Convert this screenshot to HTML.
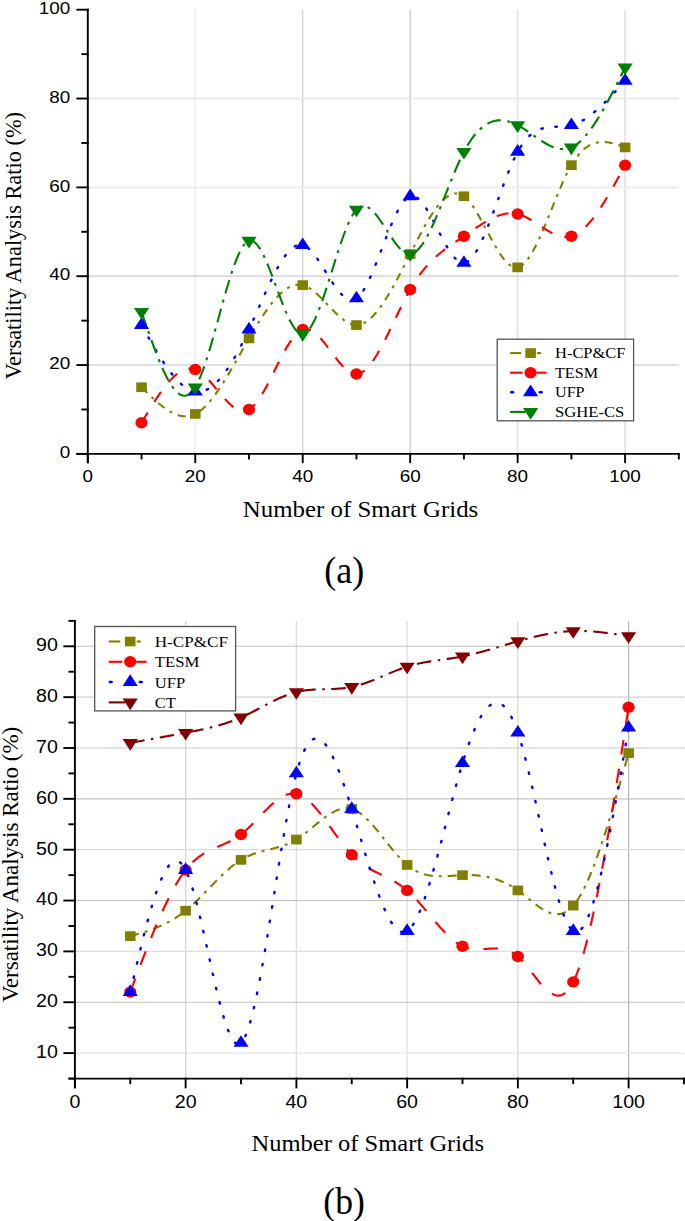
<!DOCTYPE html>
<html><head><meta charset="utf-8"><style>
html,body{margin:0;padding:0;background:#fff;overflow:hidden;}
svg{display:block;}
</style></head><body>
<svg width="685" height="1221" viewBox="0 0 685 1221">
<rect width="685" height="1221" fill="#fff"/>
<g><line x1="195.26" y1="9.70" x2="195.26" y2="453.90" stroke="#f1f1f1" stroke-width="2"/><line x1="302.72" y1="9.70" x2="302.72" y2="453.90" stroke="#d2d2d2" stroke-width="1.3"/><line x1="410.18" y1="9.70" x2="410.18" y2="453.90" stroke="#cdcdcd" stroke-width="1.4"/><line x1="517.64" y1="9.70" x2="517.64" y2="453.90" stroke="#e4e4e4" stroke-width="1.8"/><line x1="625.10" y1="9.70" x2="625.10" y2="453.90" stroke="#e0e0e0" stroke-width="1.6"/><line x1="87.80" y1="365.06" x2="678.50" y2="365.06" stroke="#c2c2c2" stroke-width="1.1"/><line x1="87.80" y1="276.22" x2="678.50" y2="276.22" stroke="#cccccc" stroke-width="1.2"/><line x1="87.80" y1="187.38" x2="678.50" y2="187.38" stroke="#eeeeee" stroke-width="2"/><line x1="87.80" y1="98.54" x2="678.50" y2="98.54" stroke="#ebebeb" stroke-width="2"/><line x1="87.80" y1="9.70" x2="678.50" y2="9.70" stroke="#ffffff" stroke-width="0"/></g>
<path d="M141.53,387.27 L143.32,389.05 L145.11,390.82 L146.90,392.57 L148.69,394.31 L150.49,396.03 L152.28,397.72 L154.07,399.37 L155.86,400.98 L157.65,402.54 L159.44,404.05 L161.23,405.50 L163.02,406.89 L164.81,408.20 L166.60,409.44 L168.39,410.59 L170.19,411.66 L171.98,412.63 L173.77,413.50 L175.56,414.26 L177.35,414.91 L179.14,415.44 L180.93,415.85 L182.72,416.13 L184.51,416.27 L186.31,416.27 L188.10,416.12 L189.89,415.81 L191.68,415.35 L193.47,414.72 L195.26,413.92 L197.05,412.95 L198.84,411.80 L200.63,410.49 L202.42,409.02 L204.22,407.40 L206.01,405.64 L207.80,403.75 L209.59,401.72 L211.38,399.57 L213.17,397.31 L214.96,394.93 L216.75,392.46 L218.54,389.89 L220.33,387.23 L222.12,384.49 L223.92,381.68 L225.71,378.80 L227.50,375.86 L229.29,372.87 L231.08,369.83 L232.87,366.75 L234.66,363.64 L236.45,360.51 L238.24,357.35 L240.04,354.18 L241.83,351.01 L243.62,347.84 L245.41,344.68 L247.20,341.53 L248.99,338.41 L250.78,335.31 L252.57,332.26 L254.36,329.24 L256.15,326.27 L257.94,323.35 L259.74,320.50 L261.53,317.70 L263.32,314.98 L265.11,312.34 L266.90,309.78 L268.69,307.31 L270.48,304.93 L272.27,302.65 L274.06,300.48 L275.86,298.43 L277.65,296.49 L279.44,294.67 L281.23,292.99 L283.02,291.44 L284.81,290.04 L286.60,288.78 L288.39,287.68 L290.18,286.73 L291.97,285.95 L293.76,285.35 L295.56,284.92 L297.35,284.68 L299.14,284.62 L300.93,284.76 L302.72,285.10 L304.51,285.65 L306.30,286.39 L308.09,287.30 L309.88,288.38 L311.68,289.61 L313.47,290.97 L315.26,292.45 L317.05,294.03 L318.84,295.70 L320.63,297.45 L322.42,299.25 L324.21,301.10 L326.00,302.98 L327.79,304.88 L329.58,306.77 L331.38,308.65 L333.17,310.50 L334.96,312.30 L336.75,314.04 L338.54,315.72 L340.33,317.30 L342.12,318.77 L343.91,320.13 L345.70,321.36 L347.50,322.44 L349.29,323.35 L351.08,324.09 L352.87,324.63 L354.66,324.97 L356.45,325.08 L358.24,324.96 L360.03,324.61 L361.82,324.04 L363.61,323.26 L365.41,322.27 L367.20,321.09 L368.99,319.71 L370.78,318.15 L372.57,316.42 L374.36,314.53 L376.15,312.47 L377.94,310.27 L379.73,307.92 L381.52,305.44 L383.31,302.83 L385.11,300.11 L386.90,297.28 L388.69,294.34 L390.48,291.31 L392.27,288.19 L394.06,284.99 L395.85,281.73 L397.64,278.40 L399.43,275.01 L401.23,271.58 L403.02,268.12 L404.81,264.62 L406.60,261.09 L408.39,257.55 L410.18,254.01 L411.97,250.47 L413.76,246.93 L415.55,243.43 L417.34,239.95 L419.13,236.52 L420.93,233.14 L422.72,229.83 L424.51,226.59 L426.30,223.44 L428.09,220.38 L429.88,217.44 L431.67,214.61 L433.46,211.92 L435.25,209.36 L437.05,206.95 L438.84,204.71 L440.63,202.64 L442.42,200.75 L444.21,199.06 L446.00,197.56 L447.79,196.29 L449.58,195.24 L451.37,194.43 L453.16,193.86 L454.95,193.55 L456.75,193.52 L458.54,193.76 L460.33,194.29 L462.12,195.12 L463.91,196.26 L465.70,197.72 L467.49,199.48 L469.28,201.51 L471.07,203.79 L472.87,206.28 L474.66,208.98 L476.45,211.85 L478.24,214.86 L480.03,217.99 L481.82,221.22 L483.61,224.52 L485.40,227.87 L487.19,231.24 L488.98,234.60 L490.78,237.94 L492.57,241.22 L494.36,244.42 L496.15,247.51 L497.94,250.48 L499.73,253.29 L501.52,255.92 L503.31,258.34 L505.10,260.54 L506.89,262.48 L508.69,264.14 L510.48,265.49 L512.27,266.51 L514.06,267.17 L515.85,267.46 L517.64,267.34 L519.43,266.79 L521.22,265.84 L523.01,264.50 L524.80,262.79 L526.60,260.75 L528.39,258.38 L530.18,255.73 L531.97,252.79 L533.76,249.61 L535.55,246.20 L537.34,242.59 L539.13,238.80 L540.92,234.84 L542.71,230.75 L544.50,226.54 L546.30,222.24 L548.09,217.88 L549.88,213.47 L551.67,209.03 L553.46,204.59 L555.25,200.18 L557.04,195.81 L558.83,191.51 L560.62,187.29 L562.41,183.19 L564.21,179.23 L566.00,175.42 L567.79,171.79 L569.58,168.37 L571.37,165.17 L573.16,162.22 L574.95,159.50 L576.74,157.02 L578.53,154.76 L580.33,152.72 L582.12,150.88 L583.91,149.24 L585.70,147.80 L587.49,146.53 L589.28,145.44 L591.07,144.52 L592.86,143.75 L594.65,143.13 L596.44,142.65 L598.24,142.31 L600.03,142.09 L601.82,141.98 L603.61,141.98 L605.40,142.09 L607.19,142.28 L608.98,142.56 L610.77,142.91 L612.56,143.32 L614.35,143.80 L616.14,144.32 L617.94,144.89 L619.73,145.49 L621.52,146.11 L623.31,146.75 L625.10,147.40" fill="none" stroke="#808000" stroke-width="2.1" stroke-dasharray="8 6 3 6"/>
<path d="M141.53,422.81 L143.32,419.81 L145.11,416.82 L146.90,413.84 L148.69,410.89 L150.49,407.98 L152.28,405.10 L154.07,402.27 L155.86,399.50 L157.65,396.80 L159.44,394.16 L161.23,391.61 L163.02,389.15 L164.81,386.79 L166.60,384.53 L168.39,382.39 L170.19,380.37 L171.98,378.48 L173.77,376.73 L175.56,375.13 L177.35,373.68 L179.14,372.39 L180.93,371.28 L182.72,370.34 L184.51,369.59 L186.31,369.04 L188.10,368.69 L189.89,368.56 L191.68,368.64 L193.47,368.95 L195.26,369.50 L197.05,370.29 L198.84,371.30 L200.63,372.52 L202.42,373.93 L204.22,375.49 L206.01,377.20 L207.80,379.04 L209.59,380.98 L211.38,383.00 L213.17,385.09 L214.96,387.23 L216.75,389.38 L218.54,391.54 L220.33,393.69 L222.12,395.80 L223.92,397.85 L225.71,399.83 L227.50,401.71 L229.29,403.47 L231.08,405.10 L232.87,406.57 L234.66,407.87 L236.45,408.97 L238.24,409.85 L240.04,410.50 L241.83,410.89 L243.62,411.00 L245.41,410.82 L247.20,410.32 L248.99,409.48 L250.78,408.29 L252.57,406.78 L254.36,404.95 L256.15,402.84 L257.94,400.47 L259.74,397.87 L261.53,395.06 L263.32,392.07 L265.11,388.92 L266.90,385.63 L268.69,382.23 L270.48,378.75 L272.27,375.20 L274.06,371.62 L275.86,368.03 L277.65,364.45 L279.44,360.91 L281.23,357.43 L283.02,354.04 L284.81,350.76 L286.60,347.61 L288.39,344.63 L290.18,341.83 L291.97,339.25 L293.76,336.89 L295.56,334.80 L297.35,332.99 L299.14,331.50 L300.93,330.33 L302.72,329.52 L304.51,329.09 L306.30,329.02 L308.09,329.28 L309.88,329.85 L311.68,330.71 L313.47,331.83 L315.26,333.18 L317.05,334.75 L318.84,336.51 L320.63,338.43 L322.42,340.49 L324.21,342.67 L326.00,344.94 L327.79,347.27 L329.58,349.65 L331.38,352.05 L333.17,354.44 L334.96,356.80 L336.75,359.11 L338.54,361.34 L340.33,363.46 L342.12,365.46 L343.91,367.30 L345.70,368.97 L347.50,370.45 L349.29,371.69 L351.08,372.69 L352.87,373.41 L354.66,373.84 L356.45,373.94 L358.24,373.71 L360.03,373.15 L361.82,372.27 L363.61,371.09 L365.41,369.64 L367.20,367.92 L368.99,365.95 L370.78,363.75 L372.57,361.33 L374.36,358.72 L376.15,355.92 L377.94,352.95 L379.73,349.84 L381.52,346.59 L383.31,343.22 L385.11,339.75 L386.90,336.19 L388.69,332.56 L390.48,328.88 L392.27,325.16 L394.06,321.43 L395.85,317.69 L397.64,313.96 L399.43,310.25 L401.23,306.60 L403.02,303.00 L404.81,299.48 L406.60,296.05 L408.39,292.74 L410.18,289.55 L411.97,286.49 L413.76,283.58 L415.55,280.79 L417.34,278.13 L419.13,275.60 L420.93,273.18 L422.72,270.87 L424.51,268.66 L426.30,266.56 L428.09,264.55 L429.88,262.63 L431.67,260.79 L433.46,259.03 L435.25,257.35 L437.05,255.74 L438.84,254.19 L440.63,252.70 L442.42,251.26 L444.21,249.87 L446.00,248.52 L447.79,247.21 L449.58,245.93 L451.37,244.68 L453.16,243.45 L454.95,242.24 L456.75,241.04 L458.54,239.84 L460.33,238.65 L462.12,237.45 L463.91,236.24 L465.70,235.02 L467.49,233.79 L469.28,232.55 L471.07,231.32 L472.87,230.08 L474.66,228.86 L476.45,227.64 L478.24,226.45 L480.03,225.28 L481.82,224.13 L483.61,223.02 L485.40,221.94 L487.19,220.90 L488.98,219.91 L490.78,218.97 L492.57,218.09 L494.36,217.26 L496.15,216.50 L497.94,215.80 L499.73,215.18 L501.52,214.64 L503.31,214.18 L505.10,213.81 L506.89,213.53 L508.69,213.34 L510.48,213.26 L512.27,213.28 L514.06,213.42 L515.85,213.66 L517.64,214.03 L519.43,214.52 L521.22,215.13 L523.01,215.83 L524.80,216.63 L526.60,217.52 L528.39,218.47 L530.18,219.49 L531.97,220.56 L533.76,221.67 L535.55,222.82 L537.34,223.98 L539.13,225.16 L540.92,226.33 L542.71,227.49 L544.50,228.64 L546.30,229.75 L548.09,230.82 L549.88,231.84 L551.67,232.79 L553.46,233.68 L555.25,234.48 L557.04,235.18 L558.83,235.79 L560.62,236.28 L562.41,236.64 L564.21,236.87 L566.00,236.96 L567.79,236.89 L569.58,236.65 L571.37,236.24 L573.16,235.65 L574.95,234.87 L576.74,233.92 L578.53,232.80 L580.33,231.52 L582.12,230.09 L583.91,228.50 L585.70,226.78 L587.49,224.91 L589.28,222.92 L591.07,220.80 L592.86,218.56 L594.65,216.21 L596.44,213.75 L598.24,211.20 L600.03,208.55 L601.82,205.82 L603.61,203.00 L605.40,200.11 L607.19,197.15 L608.98,194.13 L610.77,191.05 L612.56,187.93 L614.35,184.76 L616.14,181.55 L617.94,178.31 L619.73,175.05 L621.52,171.77 L623.31,168.47 L625.10,165.17" fill="none" stroke="#ff0000" stroke-width="2.1" stroke-dasharray="12 12.5"/>
<path d="M141.53,325.08 L143.32,328.27 L145.11,331.46 L146.90,334.63 L148.69,337.79 L150.49,340.91 L152.28,344.01 L154.07,347.06 L155.86,350.07 L157.65,353.03 L159.44,355.93 L161.23,358.77 L163.02,361.53 L164.81,364.22 L166.60,366.82 L168.39,369.33 L170.19,371.75 L171.98,374.06 L173.77,376.26 L175.56,378.34 L177.35,380.30 L179.14,382.13 L180.93,383.83 L182.72,385.38 L184.51,386.79 L186.31,388.03 L188.10,389.12 L189.89,390.04 L191.68,390.78 L193.47,391.34 L195.26,391.71 L197.05,391.89 L198.84,391.88 L200.63,391.68 L202.42,391.30 L204.22,390.74 L206.01,390.01 L207.80,389.10 L209.59,388.03 L211.38,386.79 L213.17,385.39 L214.96,383.83 L216.75,382.12 L218.54,380.26 L220.33,378.26 L222.12,376.12 L223.92,373.83 L225.71,371.42 L227.50,368.87 L229.29,366.20 L231.08,363.40 L232.87,360.48 L234.66,357.45 L236.45,354.31 L238.24,351.06 L240.04,347.71 L241.83,344.26 L243.62,340.71 L245.41,337.07 L247.20,333.34 L248.99,329.52 L250.78,325.63 L252.57,321.67 L254.36,317.66 L256.15,313.61 L257.94,309.54 L259.74,305.47 L261.53,301.41 L263.32,297.37 L265.11,293.37 L266.90,289.42 L268.69,285.54 L270.48,281.75 L272.27,278.06 L274.06,274.48 L275.86,271.03 L277.65,267.73 L279.44,264.59 L281.23,261.62 L283.02,258.84 L284.81,256.27 L286.60,253.92 L288.39,251.80 L290.18,249.93 L291.97,248.33 L293.76,247.00 L295.56,245.98 L297.35,245.26 L299.14,244.87 L300.93,244.82 L302.72,245.13 L304.51,245.79 L306.30,246.81 L308.09,248.13 L309.88,249.74 L311.68,251.61 L313.47,253.70 L315.26,256.00 L317.05,258.46 L318.84,261.07 L320.63,263.80 L322.42,266.61 L324.21,269.47 L326.00,272.37 L327.79,275.26 L329.58,278.13 L331.38,280.94 L333.17,283.67 L334.96,286.28 L336.75,288.76 L338.54,291.06 L340.33,293.16 L342.12,295.03 L343.91,296.65 L345.70,297.99 L347.50,299.01 L349.29,299.69 L351.08,300.00 L352.87,299.91 L354.66,299.40 L356.45,298.43 L358.24,296.99 L360.03,295.10 L361.82,292.79 L363.61,290.10 L365.41,287.06 L367.20,283.70 L368.99,280.06 L370.78,276.18 L372.57,272.08 L374.36,267.80 L376.15,263.38 L377.94,258.84 L379.73,254.22 L381.52,249.56 L383.31,244.88 L385.11,240.23 L386.90,235.63 L388.69,231.12 L390.48,226.74 L392.27,222.51 L394.06,218.47 L395.85,214.66 L397.64,211.10 L399.43,207.84 L401.23,204.90 L403.02,202.32 L404.81,200.13 L406.60,198.37 L408.39,197.07 L410.18,196.26 L411.97,195.97 L413.76,196.17 L415.55,196.84 L417.34,197.92 L419.13,199.40 L420.93,201.23 L422.72,203.38 L424.51,205.82 L426.30,208.52 L428.09,211.43 L429.88,214.53 L431.67,217.78 L433.46,221.14 L435.25,224.59 L437.05,228.08 L438.84,231.59 L440.63,235.08 L442.42,238.51 L444.21,241.85 L446.00,245.07 L447.79,248.13 L449.58,250.99 L451.37,253.64 L453.16,256.01 L454.95,258.10 L456.75,259.85 L458.54,261.25 L460.33,262.24 L462.12,262.80 L463.91,262.89 L465.70,262.50 L467.49,261.63 L469.28,260.31 L471.07,258.57 L472.87,256.43 L474.66,253.93 L476.45,251.08 L478.24,247.92 L480.03,244.46 L481.82,240.75 L483.61,236.80 L485.40,232.63 L487.19,228.29 L488.98,223.78 L490.78,219.15 L492.57,214.41 L494.36,209.59 L496.15,204.72 L497.94,199.82 L499.73,194.93 L501.52,190.06 L503.31,185.25 L505.10,180.51 L506.89,175.89 L508.69,171.39 L510.48,167.06 L512.27,162.91 L514.06,158.97 L515.85,155.28 L517.64,151.84 L519.43,148.70 L521.22,145.83 L523.01,143.22 L524.80,140.87 L526.60,138.76 L528.39,136.87 L530.18,135.20 L531.97,133.72 L533.76,132.44 L535.55,131.32 L537.34,130.37 L539.13,129.56 L540.92,128.88 L542.71,128.33 L544.50,127.89 L546.30,127.54 L548.09,127.27 L549.88,127.06 L551.67,126.92 L553.46,126.81 L555.25,126.74 L557.04,126.68 L558.83,126.62 L560.62,126.55 L562.41,126.46 L564.21,126.34 L566.00,126.16 L567.79,125.92 L569.58,125.60 L571.37,125.19 L573.16,124.69 L574.95,124.08 L576.74,123.38 L578.53,122.59 L580.33,121.70 L582.12,120.74 L583.91,119.69 L585.70,118.56 L587.49,117.35 L589.28,116.08 L591.07,114.74 L592.86,113.33 L594.65,111.86 L596.44,110.33 L598.24,108.75 L600.03,107.11 L601.82,105.43 L603.61,103.71 L605.40,101.94 L607.19,100.13 L608.98,98.29 L610.77,96.43 L612.56,94.53 L614.35,92.61 L616.14,90.67 L617.94,88.71 L619.73,86.74 L621.52,84.75 L623.31,82.76 L625.10,80.77" fill="none" stroke="#0000ff" stroke-dasharray="1.5 12.7" stroke-linecap="round" stroke-width="2.4"/>
<path d="M141.53,311.76 L143.32,317.00 L145.11,322.23 L146.90,327.43 L148.69,332.57 L150.49,337.63 L152.28,342.61 L154.07,347.47 L155.86,352.21 L157.65,356.80 L159.44,361.23 L161.23,365.47 L163.02,369.52 L164.81,373.34 L166.60,376.93 L168.39,380.27 L170.19,383.33 L171.98,386.10 L173.77,388.56 L175.56,390.69 L177.35,392.47 L179.14,393.89 L180.93,394.93 L182.72,395.57 L184.51,395.79 L186.31,395.57 L188.10,394.89 L189.89,393.74 L191.68,392.10 L193.47,389.95 L195.26,387.27 L197.05,384.05 L198.84,380.33 L200.63,376.15 L202.42,371.54 L204.22,366.55 L206.01,361.23 L207.80,355.61 L209.59,349.73 L211.38,343.65 L213.17,337.39 L214.96,331.00 L216.75,324.53 L218.54,318.01 L220.33,311.48 L222.12,305.00 L223.92,298.59 L225.71,292.31 L227.50,286.19 L229.29,280.27 L231.08,274.60 L232.87,269.22 L234.66,264.17 L236.45,259.50 L238.24,255.23 L240.04,251.43 L241.83,248.11 L243.62,245.34 L245.41,243.15 L247.20,241.59 L248.99,240.68 L250.78,240.47 L252.57,240.92 L254.36,241.99 L256.15,243.62 L257.94,245.77 L259.74,248.40 L261.53,251.45 L263.32,254.89 L265.11,258.67 L266.90,262.74 L268.69,267.05 L270.48,271.56 L272.27,276.22 L274.06,280.99 L275.86,285.82 L277.65,290.66 L279.44,295.47 L281.23,300.20 L283.02,304.80 L284.81,309.23 L286.60,313.45 L288.39,317.40 L290.18,321.04 L291.97,324.32 L293.76,327.21 L295.56,329.64 L297.35,331.58 L299.14,332.98 L300.93,333.79 L302.72,333.97 L304.51,333.48 L306.30,332.35 L308.09,330.63 L309.88,328.35 L311.68,325.56 L313.47,322.29 L315.26,318.60 L317.05,314.51 L318.84,310.08 L320.63,305.33 L322.42,300.32 L324.21,295.09 L326.00,289.67 L327.79,284.11 L329.58,278.45 L331.38,272.73 L333.17,267.00 L334.96,261.28 L336.75,255.63 L338.54,250.09 L340.33,244.69 L342.12,239.49 L343.91,234.51 L345.70,229.81 L347.50,225.41 L349.29,221.37 L351.08,217.73 L352.87,214.53 L354.66,211.80 L356.45,209.59 L358.24,207.93 L360.03,206.80 L361.82,206.16 L363.61,205.98 L365.41,206.23 L367.20,206.88 L368.99,207.89 L370.78,209.22 L372.57,210.85 L374.36,212.74 L376.15,214.85 L377.94,217.16 L379.73,219.64 L381.52,222.24 L383.31,224.93 L385.11,227.68 L386.90,230.47 L388.69,233.25 L390.48,235.98 L392.27,238.65 L394.06,241.21 L395.85,243.63 L397.64,245.88 L399.43,247.93 L401.23,249.73 L403.02,251.27 L404.81,252.49 L406.60,253.38 L408.39,253.90 L410.18,254.01 L411.97,253.69 L413.76,252.96 L415.55,251.83 L417.34,250.32 L419.13,248.47 L420.93,246.28 L422.72,243.79 L424.51,241.01 L426.30,237.97 L428.09,234.69 L429.88,231.19 L431.67,227.48 L433.46,223.60 L435.25,219.57 L437.05,215.40 L438.84,211.13 L440.63,206.76 L442.42,202.33 L444.21,197.85 L446.00,193.35 L447.79,188.84 L449.58,184.36 L451.37,179.92 L453.16,175.54 L454.95,171.25 L456.75,167.07 L458.54,163.01 L460.33,159.11 L462.12,155.38 L463.91,151.84 L465.70,148.52 L467.49,145.41 L469.28,142.51 L471.07,139.81 L472.87,137.31 L474.66,135.00 L476.45,132.88 L478.24,130.94 L480.03,129.18 L481.82,127.60 L483.61,126.19 L485.40,124.94 L487.19,123.85 L488.98,122.91 L490.78,122.13 L492.57,121.49 L494.36,120.99 L496.15,120.63 L497.94,120.40 L499.73,120.30 L501.52,120.32 L503.31,120.45 L505.10,120.70 L506.89,121.06 L508.69,121.52 L510.48,122.08 L512.27,122.73 L514.06,123.47 L515.85,124.29 L517.64,125.19 L519.43,126.17 L521.22,127.21 L523.01,128.31 L524.80,129.46 L526.60,130.64 L528.39,131.86 L530.18,133.10 L531.97,134.35 L533.76,135.60 L535.55,136.86 L537.34,138.09 L539.13,139.31 L540.92,140.49 L542.71,141.64 L544.50,142.74 L546.30,143.77 L548.09,144.75 L549.88,145.65 L551.67,146.46 L553.46,147.18 L555.25,147.81 L557.04,148.32 L558.83,148.71 L560.62,148.98 L562.41,149.11 L564.21,149.09 L566.00,148.92 L567.79,148.59 L569.58,148.09 L571.37,147.40 L573.16,146.53 L574.95,145.48 L576.74,144.25 L578.53,142.85 L580.33,141.29 L582.12,139.57 L583.91,137.70 L585.70,135.68 L587.49,133.53 L589.28,131.24 L591.07,128.83 L592.86,126.30 L594.65,123.65 L596.44,120.90 L598.24,118.05 L600.03,115.10 L601.82,112.07 L603.61,108.95 L605.40,105.76 L607.19,102.49 L608.98,99.17 L610.77,95.79 L612.56,92.35 L614.35,88.88 L616.14,85.36 L617.94,81.82 L619.73,78.25 L621.52,74.66 L623.31,71.05 L625.10,67.45" fill="none" stroke="#008000" stroke-width="2.1" stroke-dasharray="14 6.5 3 6.5"/>
<rect x="136.23" y="382.42" width="10.60" height="9.70" fill="#808000"/>
<rect x="189.96" y="409.07" width="10.60" height="9.70" fill="#808000"/>
<rect x="243.69" y="333.56" width="10.60" height="9.70" fill="#808000"/>
<rect x="297.42" y="280.25" width="10.60" height="9.70" fill="#808000"/>
<rect x="351.15" y="320.23" width="10.60" height="9.70" fill="#808000"/>
<rect x="404.88" y="249.16" width="10.60" height="9.70" fill="#808000"/>
<rect x="458.61" y="191.41" width="10.60" height="9.70" fill="#808000"/>
<rect x="512.34" y="262.49" width="10.60" height="9.70" fill="#808000"/>
<rect x="566.07" y="160.32" width="10.60" height="9.70" fill="#808000"/>
<rect x="619.80" y="142.55" width="10.60" height="9.70" fill="#808000"/>
<ellipse cx="141.53" cy="422.81" rx="6.10" ry="5.70" fill="#ff0000"/>
<ellipse cx="195.26" cy="369.50" rx="6.10" ry="5.70" fill="#ff0000"/>
<ellipse cx="248.99" cy="409.48" rx="6.10" ry="5.70" fill="#ff0000"/>
<ellipse cx="302.72" cy="329.52" rx="6.10" ry="5.70" fill="#ff0000"/>
<ellipse cx="356.45" cy="373.94" rx="6.10" ry="5.70" fill="#ff0000"/>
<ellipse cx="410.18" cy="289.55" rx="6.10" ry="5.70" fill="#ff0000"/>
<ellipse cx="463.91" cy="236.24" rx="6.10" ry="5.70" fill="#ff0000"/>
<ellipse cx="517.64" cy="214.03" rx="6.10" ry="5.70" fill="#ff0000"/>
<ellipse cx="571.37" cy="236.24" rx="6.10" ry="5.70" fill="#ff0000"/>
<ellipse cx="625.10" cy="165.17" rx="6.10" ry="5.70" fill="#ff0000"/>
<polygon points="141.53,317.35 133.93,328.95 149.13,328.95" fill="#0000ff"/>
<polygon points="195.26,383.98 187.66,395.58 202.86,395.58" fill="#0000ff"/>
<polygon points="248.99,321.79 241.39,333.39 256.59,333.39" fill="#0000ff"/>
<polygon points="302.72,237.39 295.12,248.99 310.32,248.99" fill="#0000ff"/>
<polygon points="356.45,290.70 348.85,302.30 364.05,302.30" fill="#0000ff"/>
<polygon points="410.18,188.53 402.58,200.13 417.78,200.13" fill="#0000ff"/>
<polygon points="463.91,255.16 456.31,266.76 471.51,266.76" fill="#0000ff"/>
<polygon points="517.64,144.11 510.04,155.71 525.24,155.71" fill="#0000ff"/>
<polygon points="571.37,117.46 563.77,129.06 578.97,129.06" fill="#0000ff"/>
<polygon points="625.10,73.04 617.50,84.64 632.70,84.64" fill="#0000ff"/>
<polygon points="133.93,307.89 149.13,307.89 141.53,319.49" fill="#008000"/>
<polygon points="187.66,383.40 202.86,383.40 195.26,395.00" fill="#008000"/>
<polygon points="241.39,236.82 256.59,236.82 248.99,248.42" fill="#008000"/>
<polygon points="295.12,330.10 310.32,330.10 302.72,341.70" fill="#008000"/>
<polygon points="348.85,205.72 364.05,205.72 356.45,217.32" fill="#008000"/>
<polygon points="402.58,250.14 417.78,250.14 410.18,261.74" fill="#008000"/>
<polygon points="456.31,147.98 471.51,147.98 463.91,159.58" fill="#008000"/>
<polygon points="510.04,121.33 525.24,121.33 517.64,132.93" fill="#008000"/>
<polygon points="563.77,143.54 578.97,143.54 571.37,155.14" fill="#008000"/>
<polygon points="617.50,63.58 632.70,63.58 625.10,75.18" fill="#008000"/>
<g stroke="#000" stroke-width="1.9" stroke-linecap="square"><line x1="87.80" y1="9.70" x2="87.80" y2="462.20"/><line x1="77.30" y1="453.90" x2="678.50" y2="453.90"/><line x1="87.80" y1="453.90" x2="87.80" y2="462.20"/><line x1="195.26" y1="453.90" x2="195.26" y2="462.20"/><line x1="302.72" y1="453.90" x2="302.72" y2="462.20"/><line x1="410.18" y1="453.90" x2="410.18" y2="462.20"/><line x1="517.64" y1="453.90" x2="517.64" y2="462.20"/><line x1="625.10" y1="453.90" x2="625.10" y2="462.20"/><line x1="141.53" y1="453.90" x2="141.53" y2="458.50"/><line x1="248.99" y1="453.90" x2="248.99" y2="458.50"/><line x1="356.45" y1="453.90" x2="356.45" y2="458.50"/><line x1="463.91" y1="453.90" x2="463.91" y2="458.50"/><line x1="571.37" y1="453.90" x2="571.37" y2="458.50"/><line x1="678.83" y1="453.90" x2="678.83" y2="458.50"/><line x1="77.30" y1="453.90" x2="87.80" y2="453.90"/><line x1="77.30" y1="365.06" x2="87.80" y2="365.06"/><line x1="77.30" y1="276.22" x2="87.80" y2="276.22"/><line x1="77.30" y1="187.38" x2="87.80" y2="187.38"/><line x1="77.30" y1="98.54" x2="87.80" y2="98.54"/><line x1="77.30" y1="9.70" x2="87.80" y2="9.70"/><line x1="82.30" y1="409.48" x2="87.80" y2="409.48"/><line x1="82.30" y1="320.64" x2="87.80" y2="320.64"/><line x1="82.30" y1="231.80" x2="87.80" y2="231.80"/><line x1="82.30" y1="142.96" x2="87.80" y2="142.96"/><line x1="82.30" y1="54.12" x2="87.80" y2="54.12"/></g>
<text x="87.80" y="482.10" font-family="Liberation Sans" font-size="17" text-anchor="middle" textLength="10.50" lengthAdjust="spacingAndGlyphs">0</text>
<text x="195.26" y="482.10" font-family="Liberation Sans" font-size="17" text-anchor="middle" textLength="21.00" lengthAdjust="spacingAndGlyphs">20</text>
<text x="302.72" y="482.10" font-family="Liberation Sans" font-size="17" text-anchor="middle" textLength="21.00" lengthAdjust="spacingAndGlyphs">40</text>
<text x="410.18" y="482.10" font-family="Liberation Sans" font-size="17" text-anchor="middle" textLength="21.00" lengthAdjust="spacingAndGlyphs">60</text>
<text x="517.64" y="482.10" font-family="Liberation Sans" font-size="17" text-anchor="middle" textLength="21.00" lengthAdjust="spacingAndGlyphs">80</text>
<text x="625.10" y="482.10" font-family="Liberation Sans" font-size="17" text-anchor="middle" textLength="31.50" lengthAdjust="spacingAndGlyphs">100</text>
<text x="70.20" y="458.10" font-family="Liberation Sans" font-size="17" text-anchor="end" textLength="10.50" lengthAdjust="spacingAndGlyphs">0</text>
<text x="70.20" y="369.26" font-family="Liberation Sans" font-size="17" text-anchor="end" textLength="21.00" lengthAdjust="spacingAndGlyphs">20</text>
<text x="70.20" y="280.42" font-family="Liberation Sans" font-size="17" text-anchor="end" textLength="21.00" lengthAdjust="spacingAndGlyphs">40</text>
<text x="70.20" y="191.58" font-family="Liberation Sans" font-size="17" text-anchor="end" textLength="21.00" lengthAdjust="spacingAndGlyphs">60</text>
<text x="70.20" y="102.74" font-family="Liberation Sans" font-size="17" text-anchor="end" textLength="21.00" lengthAdjust="spacingAndGlyphs">80</text>
<text x="70.20" y="13.90" font-family="Liberation Sans" font-size="17" text-anchor="end" textLength="31.50" lengthAdjust="spacingAndGlyphs">100</text>
<text x="360.50" y="517.10" font-family="Liberation Serif" font-size="23" text-anchor="middle" textLength="235.50" lengthAdjust="spacingAndGlyphs">Number of Smart Grids</text>
<g transform="translate(20.7,245.8) rotate(-90)"><text x="0.00" y="0.00" font-family="Liberation Serif" font-size="22.5" text-anchor="middle" textLength="267.50" lengthAdjust="spacingAndGlyphs">Versatility Analysis Ratio (%)</text></g>
<text x="344.20" y="583.30" font-family="Liberation Serif" font-size="37" text-anchor="middle" textLength="40.00" lengthAdjust="spacingAndGlyphs">(a)</text>
<rect x="497.2" y="339.2" width="136.4" height="81.6" fill="#fff" stroke="#555555" stroke-width="1.3"/>
<line x1="510.10" y1="353.10" x2="521.10" y2="353.10" stroke="#808000" stroke-width="2.1"/>
<line x1="537.10" y1="353.10" x2="541.10" y2="353.10" stroke="#808000" stroke-width="2.1"/>
<rect x="525.30" y="348.25" width="10.60" height="9.70" fill="#808000"/>
<text x="555.00" y="358.10" font-family="Liberation Serif" font-size="15" text-anchor="start" textLength="70.50" lengthAdjust="spacingAndGlyphs">H-CP&amp;CF</text>
<line x1="510.10" y1="372.70" x2="522.60" y2="372.70" stroke="#ff0000" stroke-width="2.1"/>
<line x1="536.60" y1="372.70" x2="546.60" y2="372.70" stroke="#ff0000" stroke-width="2.1"/>
<ellipse cx="530.60" cy="372.70" rx="6.10" ry="5.70" fill="#ff0000"/>
<text x="555.00" y="377.70" font-family="Liberation Serif" font-size="15" text-anchor="start" textLength="43.00" lengthAdjust="spacingAndGlyphs">TESM</text>
<line x1="511.20" y1="392.30" x2="513.00" y2="392.30" stroke="#0000ff" stroke-linecap="round" stroke-width="2.5"/>
<line x1="539.80" y1="392.30" x2="541.60" y2="392.30" stroke="#0000ff" stroke-linecap="round" stroke-width="2.5"/>
<polygon points="530.60,384.57 523.00,396.17 538.20,396.17" fill="#0000ff"/>
<text x="555.00" y="397.30" font-family="Liberation Serif" font-size="15" text-anchor="start" textLength="29.60" lengthAdjust="spacingAndGlyphs">UFP</text>
<line x1="510.10" y1="411.90" x2="525.60" y2="411.90" stroke="#008000" stroke-width="2.1"/>
<polygon points="523.00,408.03 538.20,408.03 530.60,419.63" fill="#008000"/>
<text x="555.00" y="416.90" font-family="Liberation Serif" font-size="15" text-anchor="start" textLength="69.30" lengthAdjust="spacingAndGlyphs">SGHE-CS</text>
<g><line x1="185.64" y1="621.20" x2="185.64" y2="1078.60" stroke="#d6d6d6" stroke-width="1.4"/><line x1="296.38" y1="621.20" x2="296.38" y2="1078.60" stroke="#dedede" stroke-width="1.4"/><line x1="407.12" y1="621.20" x2="407.12" y2="1078.60" stroke="#e2e2e2" stroke-width="1.4"/><line x1="517.86" y1="621.20" x2="517.86" y2="1078.60" stroke="#dcdcdc" stroke-width="1.4"/><line x1="628.60" y1="621.20" x2="628.60" y2="1078.60" stroke="#b4b4b4" stroke-width="1.2"/><line x1="74.90" y1="1053.10" x2="684.50" y2="1053.10" stroke="#e6e6e6" stroke-width="1.4"/><line x1="74.90" y1="1002.25" x2="684.50" y2="1002.25" stroke="#bebebe" stroke-width="1.1"/><line x1="74.90" y1="951.40" x2="684.50" y2="951.40" stroke="#dedede" stroke-width="1.3"/><line x1="74.90" y1="900.55" x2="684.50" y2="900.55" stroke="#bebebe" stroke-width="1.1"/><line x1="74.90" y1="849.70" x2="684.50" y2="849.70" stroke="#dadada" stroke-width="1.3"/><line x1="74.90" y1="798.85" x2="684.50" y2="798.85" stroke="#c4c4c4" stroke-width="1.1"/><line x1="74.90" y1="748.00" x2="684.50" y2="748.00" stroke="#c8c8c8" stroke-width="1.1"/><line x1="74.90" y1="697.15" x2="684.50" y2="697.15" stroke="#d2d2d2" stroke-width="1.2"/><line x1="74.90" y1="646.30" x2="684.50" y2="646.30" stroke="#c4c4c4" stroke-width="1.1"/></g>
<path d="M130.27,936.14 L132.12,935.62 L133.96,935.09 L135.81,934.56 L137.65,934.03 L139.50,933.48 L141.34,932.92 L143.19,932.35 L145.04,931.77 L146.88,931.17 L148.73,930.55 L150.57,929.90 L152.42,929.24 L154.26,928.54 L156.11,927.82 L157.95,927.07 L159.80,926.29 L161.65,925.47 L163.49,924.62 L165.34,923.72 L167.18,922.79 L169.03,921.81 L170.87,920.79 L172.72,919.72 L174.57,918.60 L176.41,917.43 L178.26,916.20 L180.10,914.92 L181.95,913.58 L183.79,912.18 L185.64,910.72 L187.49,909.19 L189.33,907.61 L191.18,905.97 L193.02,904.28 L194.87,902.55 L196.71,900.77 L198.56,898.97 L200.41,897.13 L202.25,895.27 L204.10,893.40 L205.94,891.50 L207.79,889.61 L209.63,887.70 L211.48,885.80 L213.33,883.91 L215.17,882.03 L217.02,880.17 L218.86,878.33 L220.71,876.51 L222.55,874.73 L224.40,872.99 L226.24,871.29 L228.09,869.64 L229.94,868.05 L231.78,866.51 L233.63,865.03 L235.47,863.63 L237.32,862.29 L239.16,861.04 L241.01,859.87 L242.86,858.79 L244.70,857.79 L246.55,856.87 L248.39,856.02 L250.24,855.24 L252.08,854.51 L253.93,853.84 L255.78,853.22 L257.62,852.64 L259.47,852.09 L261.31,851.57 L263.16,851.08 L265.00,850.61 L266.85,850.15 L268.69,849.69 L270.54,849.23 L272.39,848.77 L274.23,848.30 L276.08,847.81 L277.92,847.29 L279.77,846.75 L281.61,846.17 L283.46,845.55 L285.31,844.88 L287.15,844.15 L289.00,843.37 L290.84,842.52 L292.69,841.61 L294.53,840.61 L296.38,839.53 L298.23,838.36 L300.07,837.12 L301.92,835.80 L303.76,834.43 L305.61,833.00 L307.45,831.54 L309.30,830.04 L311.15,828.52 L312.99,826.98 L314.84,825.45 L316.68,823.92 L318.53,822.41 L320.37,820.92 L322.22,819.47 L324.06,818.07 L325.91,816.72 L327.76,815.44 L329.60,814.23 L331.45,813.10 L333.29,812.07 L335.14,811.14 L336.98,810.33 L338.83,809.63 L340.68,809.07 L342.52,808.65 L344.37,808.39 L346.21,808.28 L348.06,808.34 L349.90,808.59 L351.75,809.02 L353.60,809.65 L355.44,810.47 L357.29,811.46 L359.13,812.62 L360.98,813.94 L362.82,815.40 L364.67,816.99 L366.52,818.71 L368.36,820.54 L370.21,822.46 L372.05,824.48 L373.90,826.57 L375.74,828.73 L377.59,830.95 L379.43,833.21 L381.28,835.50 L383.13,837.82 L384.97,840.15 L386.82,842.48 L388.66,844.79 L390.51,847.09 L392.35,849.35 L394.20,851.57 L396.05,853.74 L397.89,855.84 L399.74,857.86 L401.58,859.79 L403.43,861.63 L405.27,863.35 L407.12,864.95 L408.97,866.43 L410.81,867.78 L412.66,869.00 L414.50,870.11 L416.35,871.11 L418.19,872.00 L420.04,872.79 L421.89,873.48 L423.73,874.08 L425.58,874.60 L427.42,875.04 L429.27,875.41 L431.11,875.70 L432.96,875.93 L434.80,876.10 L436.65,876.22 L438.50,876.29 L440.34,876.31 L442.19,876.30 L444.03,876.25 L445.88,876.18 L447.72,876.08 L449.57,875.97 L451.42,875.84 L453.26,875.71 L455.11,875.57 L456.95,875.44 L458.80,875.32 L460.64,875.21 L462.49,875.12 L464.34,875.06 L466.18,875.02 L468.03,875.01 L469.87,875.03 L471.72,875.08 L473.56,875.16 L475.41,875.27 L477.26,875.42 L479.10,875.60 L480.95,875.82 L482.79,876.08 L484.64,876.38 L486.48,876.73 L488.33,877.11 L490.17,877.55 L492.02,878.02 L493.87,878.55 L495.71,879.12 L497.56,879.75 L499.40,880.42 L501.25,881.16 L503.09,881.94 L504.94,882.78 L506.79,883.68 L508.63,884.64 L510.48,885.66 L512.32,886.75 L514.17,887.89 L516.01,889.10 L517.86,890.38 L519.71,891.72 L521.55,893.12 L523.40,894.57 L525.24,896.04 L527.09,897.53 L528.93,899.04 L530.78,900.53 L532.63,902.01 L534.47,903.46 L536.32,904.87 L538.16,906.23 L540.01,907.52 L541.85,908.73 L543.70,909.85 L545.54,910.87 L547.39,911.77 L549.24,912.55 L551.08,913.19 L552.93,913.68 L554.77,914.01 L556.62,914.16 L558.46,914.12 L560.31,913.89 L562.16,913.44 L564.00,912.77 L565.85,911.86 L567.69,910.71 L569.54,909.29 L571.38,907.61 L573.23,905.63 L575.08,903.37 L576.92,900.82 L578.77,897.99 L580.61,894.89 L582.46,891.54 L584.30,887.94 L586.15,884.10 L588.00,880.04 L589.84,875.76 L591.69,871.27 L593.53,866.58 L595.38,861.70 L597.22,856.65 L599.07,851.43 L600.91,846.05 L602.76,840.52 L604.61,834.85 L606.45,829.06 L608.30,823.14 L610.14,817.12 L611.99,811.00 L613.83,804.79 L615.68,798.50 L617.53,792.14 L619.37,785.72 L621.22,779.25 L623.06,772.75 L624.91,766.21 L626.75,759.65 L628.60,753.08" fill="none" stroke="#808000" stroke-width="2.1" stroke-dasharray="9 6 3 6"/>
<path d="M130.27,992.08 L132.12,987.16 L133.96,982.24 L135.81,977.33 L137.65,972.45 L139.50,967.58 L141.34,962.74 L143.19,957.94 L145.04,953.18 L146.88,948.46 L148.73,943.79 L150.57,939.19 L152.42,934.64 L154.26,930.16 L156.11,925.76 L157.95,921.43 L159.80,917.20 L161.65,913.05 L163.49,909.00 L165.34,905.05 L167.18,901.21 L169.03,897.49 L170.87,893.88 L172.72,890.40 L174.57,887.06 L176.41,883.84 L178.26,880.78 L180.10,877.85 L181.95,875.09 L183.79,872.48 L185.64,870.04 L187.49,867.77 L189.33,865.66 L191.18,863.70 L193.02,861.88 L194.87,860.20 L196.71,858.64 L198.56,857.20 L200.41,855.87 L202.25,854.63 L204.10,853.48 L205.94,852.40 L207.79,851.40 L209.63,850.45 L211.48,849.56 L213.33,848.70 L215.17,847.88 L217.02,847.08 L218.86,846.29 L220.71,845.51 L222.55,844.72 L224.40,843.91 L226.24,843.08 L228.09,842.22 L229.94,841.31 L231.78,840.35 L233.63,839.33 L235.47,838.24 L237.32,837.07 L239.16,835.81 L241.01,834.44 L242.86,832.98 L244.70,831.42 L246.55,829.77 L248.39,828.05 L250.24,826.26 L252.08,824.42 L253.93,822.54 L255.78,820.63 L257.62,818.71 L259.47,816.77 L261.31,814.84 L263.16,812.92 L265.00,811.03 L266.85,809.18 L268.69,807.38 L270.54,805.63 L272.39,803.96 L274.23,802.37 L276.08,800.87 L277.92,799.48 L279.77,798.20 L281.61,797.05 L283.46,796.04 L285.31,795.17 L287.15,794.47 L289.00,793.94 L290.84,793.60 L292.69,793.44 L294.53,793.50 L296.38,793.76 L298.23,794.26 L300.07,794.97 L301.92,795.88 L303.76,796.99 L305.61,798.27 L307.45,799.73 L309.30,801.34 L311.15,803.10 L312.99,805.00 L314.84,807.01 L316.68,809.13 L318.53,811.36 L320.37,813.67 L322.22,816.05 L324.06,818.50 L325.91,821.00 L327.76,823.54 L329.60,826.10 L331.45,828.69 L333.29,831.27 L335.14,833.85 L336.98,836.41 L338.83,838.94 L340.68,841.43 L342.52,843.86 L344.37,846.22 L346.21,848.51 L348.06,850.71 L349.90,852.80 L351.75,854.78 L353.60,856.65 L355.44,858.39 L357.29,860.02 L359.13,861.55 L360.98,862.99 L362.82,864.34 L364.67,865.61 L366.52,866.80 L368.36,867.94 L370.21,869.01 L372.05,870.04 L373.90,871.03 L375.74,871.98 L377.59,872.91 L379.43,873.81 L381.28,874.71 L383.13,875.60 L384.97,876.50 L386.82,877.41 L388.66,878.34 L390.51,879.30 L392.35,880.29 L394.20,881.32 L396.05,882.40 L397.89,883.54 L399.74,884.75 L401.58,886.03 L403.43,887.39 L405.27,888.84 L407.12,890.38 L408.97,892.02 L410.81,893.76 L412.66,895.59 L414.50,897.49 L416.35,899.46 L418.19,901.49 L420.04,903.58 L421.89,905.71 L423.73,907.87 L425.58,910.06 L427.42,912.27 L429.27,914.48 L431.11,916.70 L432.96,918.91 L434.80,921.11 L436.65,923.28 L438.50,925.42 L440.34,927.51 L442.19,929.56 L444.03,931.54 L445.88,933.46 L447.72,935.31 L449.57,937.07 L451.42,938.74 L453.26,940.30 L455.11,941.76 L456.95,943.10 L458.80,944.31 L460.64,945.38 L462.49,946.31 L464.34,947.10 L466.18,947.74 L468.03,948.25 L469.87,948.65 L471.72,948.94 L473.56,949.14 L475.41,949.26 L477.26,949.30 L479.10,949.29 L480.95,949.23 L482.79,949.14 L484.64,949.02 L486.48,948.90 L488.33,948.77 L490.17,948.66 L492.02,948.57 L493.87,948.52 L495.71,948.51 L497.56,948.57 L499.40,948.70 L501.25,948.91 L503.09,949.21 L504.94,949.62 L506.79,950.15 L508.63,950.81 L510.48,951.62 L512.32,952.57 L514.17,953.70 L516.01,955.00 L517.86,956.48 L519.71,958.17 L521.55,960.03 L523.40,962.04 L525.24,964.18 L527.09,966.42 L528.93,968.73 L530.78,971.10 L532.63,973.49 L534.47,975.88 L536.32,978.25 L538.16,980.56 L540.01,982.81 L541.85,984.95 L543.70,986.97 L545.54,988.84 L547.39,990.54 L549.24,992.03 L551.08,993.30 L552.93,994.32 L554.77,995.07 L556.62,995.52 L558.46,995.64 L560.31,995.41 L562.16,994.81 L564.00,993.80 L565.85,992.37 L567.69,990.50 L569.54,988.14 L571.38,985.29 L573.23,981.91 L575.08,977.99 L576.92,973.53 L578.77,968.57 L580.61,963.10 L582.46,957.16 L584.30,950.76 L586.15,943.93 L588.00,936.67 L589.84,929.00 L591.69,920.95 L593.53,912.54 L595.38,903.77 L597.22,894.68 L599.07,885.27 L600.91,875.57 L602.76,865.59 L604.61,855.36 L606.45,844.89 L608.30,834.20 L610.14,823.31 L611.99,812.23 L613.83,800.99 L615.68,789.60 L617.53,778.09 L619.37,766.46 L621.22,754.74 L623.06,742.95 L624.91,731.10 L626.75,719.22 L628.60,707.32" fill="none" stroke="#ff0000" stroke-width="2.1" stroke-dasharray="14.5 14.5"/>
<path d="M130.27,992.08 L132.12,984.16 L133.96,976.26 L135.81,968.41 L137.65,960.64 L139.50,952.98 L141.34,945.44 L143.19,938.06 L145.04,930.85 L146.88,923.86 L148.73,917.09 L150.57,910.58 L152.42,904.36 L154.26,898.44 L156.11,892.86 L157.95,887.64 L159.80,882.80 L161.65,878.38 L163.49,874.39 L165.34,870.87 L167.18,867.83 L169.03,865.31 L170.87,863.33 L172.72,861.92 L174.57,861.10 L176.41,860.90 L178.26,861.33 L180.10,862.44 L181.95,864.25 L183.79,866.77 L185.64,870.04 L187.49,874.07 L189.33,878.80 L191.18,884.18 L193.02,890.15 L194.87,896.63 L196.71,903.57 L198.56,910.91 L200.41,918.57 L202.25,926.50 L204.10,934.63 L205.94,942.91 L207.79,951.26 L209.63,959.63 L211.48,967.95 L213.33,976.15 L215.17,984.19 L217.02,991.98 L218.86,999.47 L220.71,1006.60 L222.55,1013.30 L224.40,1019.52 L226.24,1025.17 L228.09,1030.21 L229.94,1034.57 L231.78,1038.19 L233.63,1041.00 L235.47,1042.95 L237.32,1043.96 L239.16,1043.97 L241.01,1042.93 L242.86,1040.79 L244.70,1037.58 L246.55,1033.38 L248.39,1028.25 L250.24,1022.25 L252.08,1015.44 L253.93,1007.89 L255.78,999.66 L257.62,990.80 L259.47,981.39 L261.31,971.49 L263.16,961.16 L265.00,950.47 L266.85,939.46 L268.69,928.22 L270.54,916.80 L272.39,905.26 L274.23,893.68 L276.08,882.10 L277.92,870.59 L279.77,859.23 L281.61,848.06 L283.46,837.15 L285.31,826.57 L287.15,816.37 L289.00,806.63 L290.84,797.40 L292.69,788.75 L294.53,780.74 L296.38,773.42 L298.23,766.87 L300.07,761.05 L301.92,755.95 L303.76,751.55 L305.61,747.83 L307.45,744.76 L309.30,742.33 L311.15,740.50 L312.99,739.25 L314.84,738.58 L316.68,738.44 L318.53,738.82 L320.37,739.70 L322.22,741.06 L324.06,742.86 L325.91,745.10 L327.76,747.74 L329.60,750.77 L331.45,754.16 L333.29,757.90 L335.14,761.95 L336.98,766.29 L338.83,770.91 L340.68,775.78 L342.52,780.88 L344.37,786.18 L346.21,791.67 L348.06,797.32 L349.90,803.11 L351.75,809.02 L353.60,815.02 L355.44,821.09 L357.29,827.22 L359.13,833.37 L360.98,839.53 L362.82,845.67 L364.67,851.77 L366.52,857.82 L368.36,863.78 L370.21,869.64 L372.05,875.37 L373.90,880.96 L375.74,886.37 L377.59,891.60 L379.43,896.61 L381.28,901.38 L383.13,905.89 L384.97,910.13 L386.82,914.06 L388.66,917.67 L390.51,920.93 L392.35,923.82 L394.20,926.32 L396.05,928.42 L397.89,930.07 L399.74,931.27 L401.58,931.99 L403.43,932.21 L405.27,931.91 L407.12,931.06 L408.97,929.65 L410.81,927.71 L412.66,925.25 L414.50,922.30 L416.35,918.90 L418.19,915.06 L420.04,910.82 L421.89,906.20 L423.73,901.23 L425.58,895.94 L427.42,890.34 L429.27,884.48 L431.11,878.37 L432.96,872.04 L434.80,865.53 L436.65,858.85 L438.50,852.03 L440.34,845.11 L442.19,838.10 L444.03,831.03 L445.88,823.94 L447.72,816.85 L449.57,809.78 L451.42,802.76 L453.26,795.82 L455.11,788.99 L456.95,782.29 L458.80,775.75 L460.64,769.40 L462.49,763.25 L464.34,757.35 L466.18,751.70 L468.03,746.30 L469.87,741.18 L471.72,736.33 L473.56,731.76 L475.41,727.50 L477.26,723.54 L479.10,719.89 L480.95,716.57 L482.79,713.59 L484.64,710.94 L486.48,708.65 L488.33,706.72 L490.17,705.17 L492.02,703.99 L493.87,703.20 L495.71,702.82 L497.56,702.84 L499.40,703.28 L501.25,704.15 L503.09,705.45 L504.94,707.20 L506.79,709.41 L508.63,712.08 L510.48,715.23 L512.32,718.86 L514.17,722.98 L516.01,727.61 L517.86,732.74 L519.71,738.40 L521.55,744.52 L523.40,751.08 L525.24,758.03 L527.09,765.33 L528.93,772.92 L530.78,780.78 L532.63,788.84 L534.47,797.08 L536.32,805.44 L538.16,813.88 L540.01,822.36 L541.85,830.83 L543.70,839.25 L545.54,847.57 L547.39,855.76 L549.24,863.76 L551.08,871.53 L552.93,879.04 L554.77,886.22 L556.62,893.05 L558.46,899.47 L560.31,905.45 L562.16,910.94 L564.00,915.89 L565.85,920.26 L567.69,924.00 L569.54,927.08 L571.38,929.45 L573.23,931.06 L575.08,931.88 L576.92,931.93 L578.77,931.24 L580.61,929.82 L582.46,927.71 L584.30,924.93 L586.15,921.52 L588.00,917.49 L589.84,912.87 L591.69,907.70 L593.53,901.99 L595.38,895.77 L597.22,889.08 L599.07,881.93 L600.91,874.35 L602.76,866.38 L604.61,858.03 L606.45,849.33 L608.30,840.32 L610.14,831.01 L611.99,821.43 L613.83,811.62 L615.68,801.59 L617.53,791.38 L619.37,781.00 L621.22,770.49 L623.06,759.88 L624.91,749.18 L626.75,738.43 L628.60,727.66" fill="none" stroke="#0000ff" stroke-dasharray="1.5 13.1" stroke-linecap="round" stroke-width="2.4"/>
<path d="M130.27,742.91 L132.12,742.58 L133.96,742.25 L135.81,741.91 L137.65,741.58 L139.50,741.24 L141.34,740.91 L143.19,740.57 L145.04,740.24 L146.88,739.90 L148.73,739.57 L150.57,739.23 L152.42,738.90 L154.26,738.56 L156.11,738.22 L157.95,737.88 L159.80,737.55 L161.65,737.21 L163.49,736.87 L165.34,736.53 L167.18,736.19 L169.03,735.85 L170.87,735.51 L172.72,735.16 L174.57,734.82 L176.41,734.48 L178.26,734.13 L180.10,733.79 L181.95,733.44 L183.79,733.09 L185.64,732.74 L187.49,732.40 L189.33,732.04 L191.18,731.69 L193.02,731.33 L194.87,730.97 L196.71,730.60 L198.56,730.22 L200.41,729.84 L202.25,729.45 L204.10,729.05 L205.94,728.64 L207.79,728.21 L209.63,727.77 L211.48,727.32 L213.33,726.86 L215.17,726.38 L217.02,725.88 L218.86,725.37 L220.71,724.84 L222.55,724.28 L224.40,723.71 L226.24,723.12 L228.09,722.50 L229.94,721.86 L231.78,721.20 L233.63,720.51 L235.47,719.80 L237.32,719.06 L239.16,718.29 L241.01,717.49 L242.86,716.66 L244.70,715.81 L246.55,714.93 L248.39,714.03 L250.24,713.11 L252.08,712.17 L253.93,711.22 L255.78,710.26 L257.62,709.29 L259.47,708.32 L261.31,707.34 L263.16,706.37 L265.00,705.40 L266.85,704.43 L268.69,703.47 L270.54,702.53 L272.39,701.60 L274.23,700.68 L276.08,699.79 L277.92,698.92 L279.77,698.07 L281.61,697.26 L283.46,696.47 L285.31,695.72 L287.15,695.00 L289.00,694.32 L290.84,693.69 L292.69,693.10 L294.53,692.56 L296.38,692.06 L298.23,691.63 L300.07,691.24 L301.92,690.89 L303.76,690.59 L305.61,690.33 L307.45,690.11 L309.30,689.92 L311.15,689.75 L312.99,689.62 L314.84,689.51 L316.68,689.42 L318.53,689.34 L320.37,689.28 L322.22,689.23 L324.06,689.18 L325.91,689.14 L327.76,689.09 L329.60,689.05 L331.45,688.99 L333.29,688.93 L335.14,688.85 L336.98,688.75 L338.83,688.64 L340.68,688.50 L342.52,688.33 L344.37,688.14 L346.21,687.91 L348.06,687.64 L349.90,687.33 L351.75,686.98 L353.60,686.58 L355.44,686.14 L357.29,685.66 L359.13,685.14 L360.98,684.58 L362.82,683.98 L364.67,683.36 L366.52,682.71 L368.36,682.03 L370.21,681.33 L372.05,680.61 L373.90,679.87 L375.74,679.12 L377.59,678.35 L379.43,677.58 L381.28,676.80 L383.13,676.01 L384.97,675.23 L386.82,674.44 L388.66,673.66 L390.51,672.88 L392.35,672.12 L394.20,671.36 L396.05,670.62 L397.89,669.90 L399.74,669.20 L401.58,668.52 L403.43,667.86 L405.27,667.24 L407.12,666.64 L408.97,666.08 L410.81,665.55 L412.66,665.04 L414.50,664.57 L416.35,664.12 L418.19,663.70 L420.04,663.30 L421.89,662.92 L423.73,662.56 L425.58,662.22 L427.42,661.90 L429.27,661.59 L431.11,661.29 L432.96,661.00 L434.80,660.73 L436.65,660.45 L438.50,660.19 L440.34,659.93 L442.19,659.67 L444.03,659.41 L445.88,659.15 L447.72,658.89 L449.57,658.62 L451.42,658.35 L453.26,658.07 L455.11,657.77 L456.95,657.47 L458.80,657.15 L460.64,656.82 L462.49,656.47 L464.34,656.10 L466.18,655.72 L468.03,655.31 L469.87,654.90 L471.72,654.46 L473.56,654.02 L475.41,653.55 L477.26,653.08 L479.10,652.59 L480.95,652.10 L482.79,651.59 L484.64,651.08 L486.48,650.55 L488.33,650.02 L490.17,649.48 L492.02,648.94 L493.87,648.39 L495.71,647.84 L497.56,647.28 L499.40,646.73 L501.25,646.17 L503.09,645.61 L504.94,645.05 L506.79,644.49 L508.63,643.93 L510.48,643.38 L512.32,642.83 L514.17,642.29 L516.01,641.75 L517.86,641.21 L519.71,640.69 L521.55,640.17 L523.40,639.66 L525.24,639.16 L527.09,638.67 L528.93,638.19 L530.78,637.72 L532.63,637.26 L534.47,636.81 L536.32,636.37 L538.16,635.95 L540.01,635.54 L541.85,635.14 L543.70,634.76 L545.54,634.39 L547.39,634.04 L549.24,633.71 L551.08,633.39 L552.93,633.09 L554.77,632.80 L556.62,632.54 L558.46,632.29 L560.31,632.06 L562.16,631.85 L564.00,631.66 L565.85,631.49 L567.69,631.35 L569.54,631.22 L571.38,631.12 L573.23,631.04 L575.08,630.99 L576.92,630.96 L578.77,630.95 L580.61,630.96 L582.46,630.99 L584.30,631.04 L586.15,631.11 L588.00,631.20 L589.84,631.31 L591.69,631.43 L593.53,631.57 L595.38,631.72 L597.22,631.89 L599.07,632.07 L600.91,632.26 L602.76,632.46 L604.61,632.68 L606.45,632.91 L608.30,633.14 L610.14,633.39 L611.99,633.64 L613.83,633.90 L615.68,634.16 L617.53,634.43 L619.37,634.71 L621.22,634.99 L623.06,635.27 L624.91,635.56 L626.75,635.84 L628.60,636.13" fill="none" stroke="#800000" stroke-width="2.1" stroke-dasharray="14.5 6.5 2.5 6.5"/>
<rect x="124.97" y="931.29" width="10.60" height="9.70" fill="#808000"/>
<rect x="180.34" y="905.87" width="10.60" height="9.70" fill="#808000"/>
<rect x="235.71" y="855.02" width="10.60" height="9.70" fill="#808000"/>
<rect x="291.08" y="834.68" width="10.60" height="9.70" fill="#808000"/>
<rect x="346.45" y="804.17" width="10.60" height="9.70" fill="#808000"/>
<rect x="401.82" y="860.10" width="10.60" height="9.70" fill="#808000"/>
<rect x="457.19" y="870.27" width="10.60" height="9.70" fill="#808000"/>
<rect x="512.56" y="885.53" width="10.60" height="9.70" fill="#808000"/>
<rect x="567.93" y="900.78" width="10.60" height="9.70" fill="#808000"/>
<rect x="623.30" y="748.23" width="10.60" height="9.70" fill="#808000"/>
<ellipse cx="130.27" cy="992.08" rx="6.10" ry="5.70" fill="#ff0000"/>
<ellipse cx="185.64" cy="870.04" rx="6.10" ry="5.70" fill="#ff0000"/>
<ellipse cx="241.01" cy="834.44" rx="6.10" ry="5.70" fill="#ff0000"/>
<ellipse cx="296.38" cy="793.76" rx="6.10" ry="5.70" fill="#ff0000"/>
<ellipse cx="351.75" cy="854.78" rx="6.10" ry="5.70" fill="#ff0000"/>
<ellipse cx="407.12" cy="890.38" rx="6.10" ry="5.70" fill="#ff0000"/>
<ellipse cx="462.49" cy="946.31" rx="6.10" ry="5.70" fill="#ff0000"/>
<ellipse cx="517.86" cy="956.48" rx="6.10" ry="5.70" fill="#ff0000"/>
<ellipse cx="573.23" cy="981.91" rx="6.10" ry="5.70" fill="#ff0000"/>
<ellipse cx="628.60" cy="707.32" rx="6.10" ry="5.70" fill="#ff0000"/>
<polygon points="130.27,984.35 122.67,995.95 137.87,995.95" fill="#0000ff"/>
<polygon points="185.64,862.31 178.04,873.91 193.24,873.91" fill="#0000ff"/>
<polygon points="241.01,1035.20 233.41,1046.80 248.61,1046.80" fill="#0000ff"/>
<polygon points="296.38,765.69 288.78,777.29 303.98,777.29" fill="#0000ff"/>
<polygon points="351.75,801.29 344.15,812.89 359.35,812.89" fill="#0000ff"/>
<polygon points="407.12,923.33 399.52,934.93 414.72,934.93" fill="#0000ff"/>
<polygon points="462.49,755.52 454.89,767.12 470.09,767.12" fill="#0000ff"/>
<polygon points="517.86,725.01 510.26,736.61 525.46,736.61" fill="#0000ff"/>
<polygon points="573.23,923.33 565.63,934.93 580.83,934.93" fill="#0000ff"/>
<polygon points="628.60,719.93 621.00,731.53 636.20,731.53" fill="#0000ff"/>
<polygon points="122.67,739.05 137.87,739.05 130.27,750.65" fill="#800000"/>
<polygon points="178.04,728.88 193.24,728.88 185.64,740.48" fill="#800000"/>
<polygon points="233.41,713.62 248.61,713.62 241.01,725.22" fill="#800000"/>
<polygon points="288.78,688.20 303.98,688.20 296.38,699.80" fill="#800000"/>
<polygon points="344.15,683.11 359.35,683.11 351.75,694.71" fill="#800000"/>
<polygon points="399.52,662.77 414.72,662.77 407.12,674.37" fill="#800000"/>
<polygon points="454.89,652.60 470.09,652.60 462.49,664.20" fill="#800000"/>
<polygon points="510.26,637.35 525.46,637.35 517.86,648.95" fill="#800000"/>
<polygon points="565.63,627.18 580.83,627.18 573.23,638.78" fill="#800000"/>
<polygon points="621.00,632.26 636.20,632.26 628.60,643.86" fill="#800000"/>
<g stroke="#000" stroke-width="1.9" stroke-linecap="square"><line x1="74.90" y1="621.20" x2="74.90" y2="1087.40"/><line x1="69.40" y1="1078.60" x2="684.50" y2="1078.60"/><line x1="74.90" y1="1078.60" x2="74.90" y2="1087.40"/><line x1="185.64" y1="1078.60" x2="185.64" y2="1087.40"/><line x1="296.38" y1="1078.60" x2="296.38" y2="1087.40"/><line x1="407.12" y1="1078.60" x2="407.12" y2="1087.40"/><line x1="517.86" y1="1078.60" x2="517.86" y2="1087.40"/><line x1="628.60" y1="1078.60" x2="628.60" y2="1087.40"/><line x1="130.27" y1="1078.60" x2="130.27" y2="1083.20"/><line x1="241.01" y1="1078.60" x2="241.01" y2="1083.20"/><line x1="351.75" y1="1078.60" x2="351.75" y2="1083.20"/><line x1="462.49" y1="1078.60" x2="462.49" y2="1083.20"/><line x1="573.23" y1="1078.60" x2="573.23" y2="1083.20"/><line x1="683.97" y1="1078.60" x2="683.97" y2="1083.20"/><line x1="64.30" y1="1053.10" x2="74.90" y2="1053.10"/><line x1="64.30" y1="1002.25" x2="74.90" y2="1002.25"/><line x1="64.30" y1="951.40" x2="74.90" y2="951.40"/><line x1="64.30" y1="900.55" x2="74.90" y2="900.55"/><line x1="64.30" y1="849.70" x2="74.90" y2="849.70"/><line x1="64.30" y1="798.85" x2="74.90" y2="798.85"/><line x1="64.30" y1="748.00" x2="74.90" y2="748.00"/><line x1="64.30" y1="697.15" x2="74.90" y2="697.15"/><line x1="64.30" y1="646.30" x2="74.90" y2="646.30"/><line x1="69.40" y1="1078.53" x2="74.90" y2="1078.53"/><line x1="69.40" y1="1027.67" x2="74.90" y2="1027.67"/><line x1="69.40" y1="976.82" x2="74.90" y2="976.82"/><line x1="69.40" y1="925.97" x2="74.90" y2="925.97"/><line x1="69.40" y1="875.12" x2="74.90" y2="875.12"/><line x1="69.40" y1="824.27" x2="74.90" y2="824.27"/><line x1="69.40" y1="773.42" x2="74.90" y2="773.42"/><line x1="69.40" y1="722.57" x2="74.90" y2="722.57"/><line x1="69.40" y1="671.72" x2="74.90" y2="671.72"/><line x1="69.40" y1="620.88" x2="74.90" y2="620.88"/></g>
<text x="74.90" y="1108.10" font-family="Liberation Sans" font-size="17.5" text-anchor="middle" textLength="10.90" lengthAdjust="spacingAndGlyphs">0</text>
<text x="185.64" y="1108.10" font-family="Liberation Sans" font-size="17.5" text-anchor="middle" textLength="21.80" lengthAdjust="spacingAndGlyphs">20</text>
<text x="296.38" y="1108.10" font-family="Liberation Sans" font-size="17.5" text-anchor="middle" textLength="21.80" lengthAdjust="spacingAndGlyphs">40</text>
<text x="407.12" y="1108.10" font-family="Liberation Sans" font-size="17.5" text-anchor="middle" textLength="21.80" lengthAdjust="spacingAndGlyphs">60</text>
<text x="517.86" y="1108.10" font-family="Liberation Sans" font-size="17.5" text-anchor="middle" textLength="21.80" lengthAdjust="spacingAndGlyphs">80</text>
<text x="628.60" y="1108.10" font-family="Liberation Sans" font-size="17.5" text-anchor="middle" textLength="32.70" lengthAdjust="spacingAndGlyphs">100</text>
<text x="57.90" y="1057.90" font-family="Liberation Sans" font-size="17.5" text-anchor="end" textLength="21.80" lengthAdjust="spacingAndGlyphs">10</text>
<text x="57.90" y="1007.05" font-family="Liberation Sans" font-size="17.5" text-anchor="end" textLength="21.80" lengthAdjust="spacingAndGlyphs">20</text>
<text x="57.90" y="956.20" font-family="Liberation Sans" font-size="17.5" text-anchor="end" textLength="21.80" lengthAdjust="spacingAndGlyphs">30</text>
<text x="57.90" y="905.35" font-family="Liberation Sans" font-size="17.5" text-anchor="end" textLength="21.80" lengthAdjust="spacingAndGlyphs">40</text>
<text x="57.90" y="854.50" font-family="Liberation Sans" font-size="17.5" text-anchor="end" textLength="21.80" lengthAdjust="spacingAndGlyphs">50</text>
<text x="57.90" y="803.65" font-family="Liberation Sans" font-size="17.5" text-anchor="end" textLength="21.80" lengthAdjust="spacingAndGlyphs">60</text>
<text x="57.90" y="752.80" font-family="Liberation Sans" font-size="17.5" text-anchor="end" textLength="21.80" lengthAdjust="spacingAndGlyphs">70</text>
<text x="57.90" y="701.95" font-family="Liberation Sans" font-size="17.5" text-anchor="end" textLength="21.80" lengthAdjust="spacingAndGlyphs">80</text>
<text x="57.90" y="651.10" font-family="Liberation Sans" font-size="17.5" text-anchor="end" textLength="21.80" lengthAdjust="spacingAndGlyphs">90</text>
<text x="367.70" y="1150.70" font-family="Liberation Serif" font-size="23" text-anchor="middle" textLength="232.50" lengthAdjust="spacingAndGlyphs">Number of Smart Grids</text>
<g transform="translate(18.2,864.5) rotate(-90)"><text x="0.00" y="0.00" font-family="Liberation Serif" font-size="23" text-anchor="middle" textLength="275.50" lengthAdjust="spacingAndGlyphs">Versatility Analysis Ratio (%)</text></g>
<text x="344.10" y="1213.50" font-family="Liberation Serif" font-size="37" text-anchor="middle" textLength="41.50" lengthAdjust="spacingAndGlyphs">(b)</text>
<rect x="94.7" y="626.5" width="140.9" height="84.4" fill="#fff" stroke="#555555" stroke-width="1.3"/>
<line x1="108.70" y1="641.50" x2="120.20" y2="641.50" stroke="#808000" stroke-width="2.1"/>
<line x1="136.70" y1="641.50" x2="140.70" y2="641.50" stroke="#808000" stroke-width="2.1"/>
<rect x="124.90" y="636.65" width="10.60" height="9.70" fill="#808000"/>
<text x="154.70" y="647.00" font-family="Liberation Serif" font-size="15.5" text-anchor="start" textLength="73.30" lengthAdjust="spacingAndGlyphs">H-CP&amp;CF</text>
<line x1="108.70" y1="661.80" x2="122.20" y2="661.80" stroke="#ff0000" stroke-width="2.1"/>
<line x1="136.20" y1="661.80" x2="146.60" y2="661.80" stroke="#ff0000" stroke-width="2.1"/>
<ellipse cx="130.20" cy="661.80" rx="6.10" ry="5.70" fill="#ff0000"/>
<text x="154.70" y="667.30" font-family="Liberation Serif" font-size="15.5" text-anchor="start" textLength="44.70" lengthAdjust="spacingAndGlyphs">TESM</text>
<line x1="109.80" y1="682.10" x2="111.60" y2="682.10" stroke="#0000ff" stroke-linecap="round" stroke-width="2.5"/>
<line x1="139.80" y1="682.10" x2="141.60" y2="682.10" stroke="#0000ff" stroke-linecap="round" stroke-width="2.5"/>
<polygon points="130.20,674.37 122.60,685.97 137.80,685.97" fill="#0000ff"/>
<text x="154.70" y="687.60" font-family="Liberation Serif" font-size="15.5" text-anchor="start" textLength="30.50" lengthAdjust="spacingAndGlyphs">UFP</text>
<line x1="108.70" y1="702.40" x2="125.20" y2="702.40" stroke="#800000" stroke-width="2.1"/>
<polygon points="122.60,698.53 137.80,698.53 130.20,710.13" fill="#800000"/>
<text x="154.70" y="707.90" font-family="Liberation Serif" font-size="15.5" text-anchor="start" textLength="21.00" lengthAdjust="spacingAndGlyphs">CT</text>
</svg>
</body></html>
